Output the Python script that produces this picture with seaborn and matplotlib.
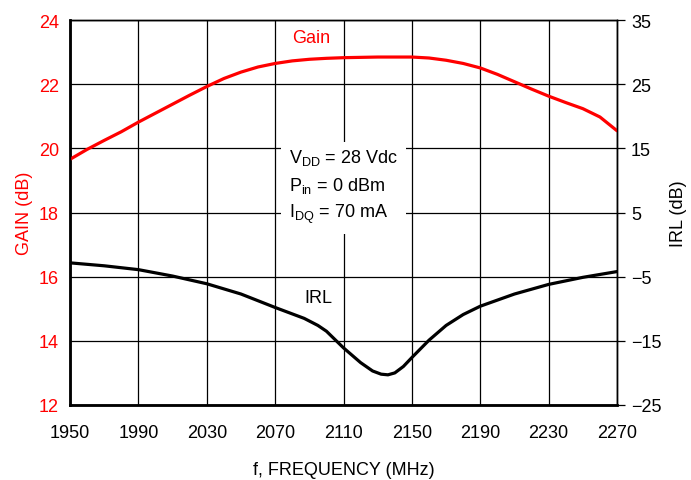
import matplotlib
matplotlib.use("Agg")
import matplotlib.pyplot as plt
import seaborn as sns
import pandas as pd

# ------------------------------
# Data
# ------------------------------
gain_freq = [1950, 1960, 1970, 1980, 1990, 2000, 2010, 2020, 2030, 2040, 2050,
             2060, 2070, 2080, 2090, 2100, 2110, 2130, 2150, 2160, 2170, 2180,
             2190, 2200, 2210, 2220, 2230, 2240, 2250, 2260, 2270]
gain_db = [19.66, 19.97, 20.25, 20.52, 20.82, 21.1, 21.38, 21.66, 21.93, 22.18, 22.38,
           22.54, 22.65, 22.73, 22.78, 22.81, 22.83, 22.85, 22.85, 22.82, 22.75, 22.65,
           22.51, 22.31, 22.08, 21.85, 21.63, 21.43, 21.24, 20.98, 20.55]

irl_freq = [1950, 1970, 1990, 2010, 2030, 2050, 2070, 2087, 2095, 2100, 2110, 2120,
            2127, 2132, 2136, 2140, 2145, 2150, 2160, 2170, 2180, 2190, 2210, 2230,
            2250, 2270]
irl_db = [-2.84, -3.3, -3.9, -4.9, -6.1, -7.7, -9.8, -11.5, -12.6, -13.5, -16.1, -18.4,
          -19.7, -20.2, -20.3, -20.0, -19.0, -17.6, -14.9, -12.6, -10.9, -9.6, -7.7, -6.2,
          -5.1, -4.2]

x_ticks = list(range(1950, 2271, 40))
gain_ticks = list(range(12, 25, 2))
irl_ticks = list(range(-25, 36, 10))

gain_df = pd.DataFrame({"freq": gain_freq, "gain": gain_db})
irl_df = pd.DataFrame({"freq": irl_freq, "irl": irl_db})

# ------------------------------
# Style
# ------------------------------
sns.set_style("white")
plt.rcParams["font.family"] = ["Liberation Sans", "DejaVu Sans"]
plt.rcParams["text.color"] = "black"
plt.rcParams["axes.labelcolor"] = "black"
plt.rcParams["xtick.color"] = "black"
plt.rcParams["ytick.color"] = "black"
fs = 13
red = "#ff0000"

fig = plt.figure(figsize=(6.91, 4.81), dpi=100)
ax = fig.add_axes([0.1013, 0.156, 0.7917, 0.800])
ax2 = ax.twinx()

# IRL on the right axis, gain on the left axis (gain drawn on top)
sns.lineplot(data=irl_df, x="freq", y="irl", ax=ax2, color="black", linewidth=2.3)
sns.lineplot(data=gain_df, x="freq", y="gain", ax=ax, color=red, linewidth=2.3)
ax.set_zorder(ax2.get_zorder() + 1)
ax.patch.set_visible(False)

ax.set_xlim(1950, 2270)
ax.set_ylim(12, 24)
ax2.set_ylim(-25, 35)
ax.set_xticks(x_ticks)
ax.set_yticks(gain_ticks)
ax2.set_yticks(irl_ticks)

ax.grid(True, color="black", linewidth=0.9)
ax2.grid(False)

ax.tick_params(axis="x", length=0, pad=14, labelsize=fs, colors="black")
ax.tick_params(axis="y", length=0, pad=8, labelsize=fs, labelcolor=red)
ax2.tick_params(axis="y", length=6, width=0.9, color="black", labelcolor="black",
                pad=4, labelsize=fs)

for a in (ax, ax2):
    for s in a.spines.values():
        s.set_color("black")
        s.set_linewidth(1.0)
ax2.spines["left"].set_linewidth(2.0)
ax2.spines["bottom"].set_linewidth(2.0)

ax.set_xlabel("f, FREQUENCY (MHz)", fontsize=fs, labelpad=14, color="black")
ax.set_ylabel("GAIN (dB)", fontsize=fs, color=red, labelpad=4)
ax2.set_ylabel("IRL (dB)", fontsize=fs, labelpad=6, color="black")

# Curve labels and bias conditions
ax.text(2091, 23.45, "Gain", color=red, fontsize=fs, ha="center", va="center")
ax2.text(2095, -8.3, "IRL", color="black", fontsize=fs, ha="center", va="center")
ax.text(2078, 18.82,
        "V$_{\\mathregular{DD}}$ = 28 Vdc\nP$_{\\mathregular{in}}$ = 0 dBm\nI$_{\\mathregular{DQ}}$ = 70 mA",
        fontsize=fs, ha="left", va="center", linespacing=1.5, zorder=5, color="black",
        bbox=dict(facecolor="white", edgecolor="none", pad=6))

fig.savefig("out.png", dpi=100)
